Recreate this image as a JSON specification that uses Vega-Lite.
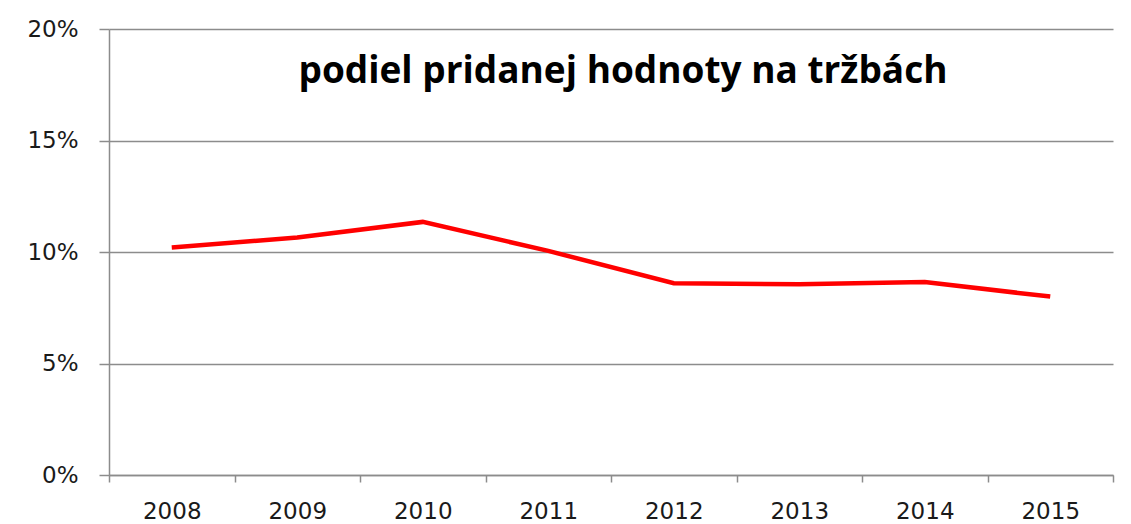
{
  "$schema": "https://vega.github.io/schema/vega-lite/v6.json",
  "autosize": "none",
  "padding": {"left": 109, "top": 29, "right": 18, "bottom": 49},
  "width": 1004,
  "height": 446,
  "background": "white",
  "title": {
    "text": "podiel pridanej hodnoty na tržbách",
    "font": "Open Sans",
    "fontWeight": "bold",
    "fontSize": 37,
    "color": "#000000",
    "frame": "group",
    "anchor": "middle",
    "baseline": "alphabetic",
    "offset": -102,
    "dx": 12
  },
  "config": {
    "view": {"stroke": null},
    "axis": {
      "labelFont": "DejaVu Sans",
      "labelFontSize": 23,
      "labelColor": "#1a1a1a",
      "domainColor": "#8c8c8c",
      "tickColor": "#8c8c8c",
      "gridColor": "#8c8c8c",
      "domainWidth": 1.5,
      "tickWidth": 1.5,
      "gridWidth": 1.5,
      "gridOpacity": 1,
      "title": null
    }
  },
  "data": {
    "values": [
      {"rok": "2008", "podiel": 0.102},
      {"rok": "2009", "podiel": 0.1065},
      {"rok": "2010", "podiel": 0.1135},
      {"rok": "2011", "podiel": 0.1005},
      {"rok": "2012", "podiel": 0.086},
      {"rok": "2013", "podiel": 0.0855},
      {"rok": "2014", "podiel": 0.0865},
      {"rok": "2015", "podiel": 0.080}
    ]
  },
  "mark": {"type": "line", "color": "#ff0000", "strokeWidth": 4.5},
  "encoding": {
    "x": {
      "field": "rok",
      "type": "ordinal",
      "bandPosition": 0.5,
      "scale": {"type": "band", "paddingInner": 0, "paddingOuter": 0},
      "axis": {
        "labelAngle": 0,
        "tickBand": "extent",
        "tickSize": 7,
        "labelPadding": 18,
        "grid": false
      }
    },
    "y": {
      "field": "podiel",
      "type": "quantitative",
      "scale": {"domain": [0, 0.2], "nice": false},
      "axis": {
        "values": [0, 0.05, 0.1, 0.15, 0.2],
        "format": ".0%",
        "tickSize": 10,
        "labelPadding": 21,
        "grid": true
      }
    }
  }
}
